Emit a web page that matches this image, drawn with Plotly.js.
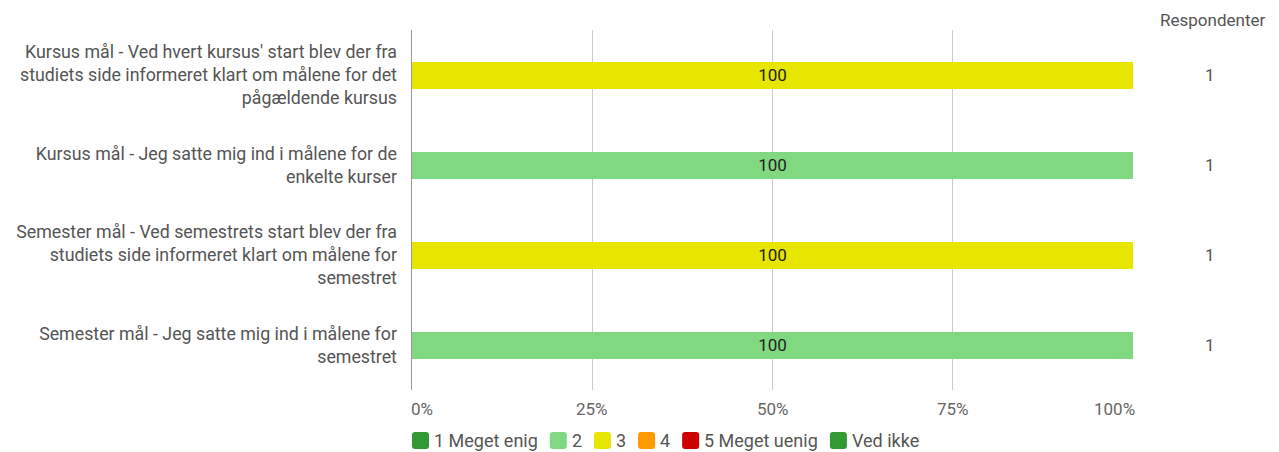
<!DOCTYPE html>
<html>
<head>
<meta charset="utf-8">
<script src="https://cdn.plot.ly/plotly-3.0.1.min.js"></script>
<style>
html,body{margin:0;padding:0;background:#fff;}
#chart{width:1279px;height:452px;}
</style>
</head>
<body>
<div id="chart"></div>
<script>
// ---- Data ----
const categories = [
  "Kursus mål - Ved hvert kursus' start blev der fra<br>studiets side informeret klart om målene for det<br>pågældende kursus",
  "Kursus mål - Jeg satte mig ind i målene for de<br>enkelte kurser",
  "Semester mål - Ved semestrets start blev der fra<br>studiets side informeret klart om målene for<br>semestret",
  "Semester mål - Jeg satte mig ind i målene for<br>semestret"
];
const seriesNames = ["1 Meget enig", "2", "3", "4", "5 Meget uenig", "Ved ikke"];
const s1 = [0, 0, 0, 0];
const s2 = [0, 100, 0, 100];
const s3 = [100, 0, 100, 0];
const s4 = [0, 0, 0, 0];
const s5 = [0, 0, 0, 0];
const sVedIkke = [0, 0, 0, 0];
const respondents = [1, 1, 1, 1];
const respondentsHeader = "Respondenter";
const xTickVals = [0, 25, 50, 75, 100];
const xTickText = ["0%", "25%", "50%", "75%", "100%"];

// ---- Styles ----
const colors = ["#339933", "#80d880", "#e6e600", "#ff9900", "#cc0000", "#339933"];
const FONT = "Roboto, 'Open Sans', sans-serif";
const W = 1279, H = 452;
const mL = 412, mR = 146, mT = 30, mB = 62;
const plotW = W - mL - mR, plotH = H - mT - mB;

const seriesValues = [s1, s2, s3, s4, s5, sVedIkke];
const traces = seriesNames.map((name, i) => ({
  type: "bar",
  orientation: "h",
  name: name,
  y: categories,
  x: seriesValues[i],
  width: 0.3,
  marker: {color: colors[i], line: {width: 0}},
  text: seriesValues[i].map(v => v > 0 ? String(v) : ""),
  textposition: "inside",
  insidetextanchor: "middle",
  textfont: {family: FONT, size: 17, color: "#222"},
  hoverinfo: "skip",
  showlegend: false
}));

const annotations = [];
const shapes = [];

// respondents column
annotations.push({
  xref: "paper", yref: "paper", x: (1212 - mL) / plotW, y: (H - mB - 20) / plotH,
  text: respondentsHeader, showarrow: false, xanchor: "center", yanchor: "middle",
  font: {family: FONT, size: 17, color: "#555"}
});
categories.forEach((c, i) => {
  annotations.push({
    xref: "paper", yref: "y", x: (1210 - mL) / plotW, y: c,
    text: String(respondents[i]), showarrow: false, xanchor: "center", yanchor: "middle",
    font: {family: FONT, size: 17, color: "#555"}
  });
});

// x tick labels (edges kept inside the chart area)
xTickVals.forEach((v, i) => {
  let anchor = "center", shift = 0;
  if (i === 0) { anchor = "left"; shift = -3; }
  if (i === xTickVals.length - 1) { anchor = "right"; shift = 4; }
  annotations.push({
    xref: "x", yref: "paper", x: v, y: 0, xanchor: anchor, yanchor: "top",
    xshift: shift, yshift: -7,
    text: xTickText[i], showarrow: false,
    font: {family: FONT, size: 17, color: "#666"}
  });
});

// custom legend
const LEGSIZE = 18;
const canvas = document.createElement("canvas");
const ctx = canvas.getContext("2d");
ctx.font = LEGSIZE + "px Roboto";
let cx = mL;
const legY = 440.5, sw = 17;
const px2x = p => (p - mL) / plotW;
const py2y = p => (H - mB - p) / plotH;
seriesNames.forEach((name, i) => {
  const x0 = cx, x1 = cx + sw, y0 = legY - sw / 2, y1 = legY + sw / 2, r = 3;
  const path = `M${px2x(x0 + r)},${py2y(y0)} L${px2x(x1 - r)},${py2y(y0)} Q${px2x(x1)},${py2y(y0)} ${px2x(x1)},${py2y(y0 + r)} L${px2x(x1)},${py2y(y1 - r)} Q${px2x(x1)},${py2y(y1)} ${px2x(x1 - r)},${py2y(y1)} L${px2x(x0 + r)},${py2y(y1)} Q${px2x(x0)},${py2y(y1)} ${px2x(x0)},${py2y(y1 - r)} L${px2x(x0)},${py2y(y0 + r)} Q${px2x(x0)},${py2y(y0)} ${px2x(x0 + r)},${py2y(y0)} Z`;
  shapes.push({type: "path", xref: "paper", yref: "paper", path: path,
    fillcolor: colors[i], line: {width: 0}, layer: "above"});
  annotations.push({
    xref: "paper", yref: "paper", x: px2x(cx + sw + 3), y: py2y(legY),
    xanchor: "left", yanchor: "middle", text: name, showarrow: false,
    font: {family: FONT, size: LEGSIZE, color: "#555"}
  });
  const tw = ctx.measureText(name).width;
  cx += sw + 5 + tw + 12;
});

const layout = {
  width: W, height: H,
  margin: {l: mL, r: mR, t: mT, b: mB, pad: 0},
  paper_bgcolor: "#fff", plot_bgcolor: "#fff",
  barmode: "stack",
  bargap: 0.7,
  showlegend: false,
  font: {family: FONT},
  xaxis: {
    range: [0, 100], tickvals: xTickVals, showticklabels: false,
    showgrid: true, gridcolor: "#cccccc", gridwidth: 1, zeroline: false,
    showline: false, fixedrange: true
  },
  yaxis: {
    autorange: "reversed", type: "category",
    showline: true, linecolor: "#999999", linewidth: 1.5,
    showgrid: false, zeroline: false,
    ticks: "outside", ticklen: 10, tickcolor: "rgba(0,0,0,0)",
    tickfont: {family: FONT, size: 17.8, color: "#555"},
    fixedrange: true
  },
  annotations: annotations,
  shapes: shapes
};

Plotly.newPlot("chart", traces, layout, {displayModeBar: false, staticPlot: true});
</script>
</body>
</html>
